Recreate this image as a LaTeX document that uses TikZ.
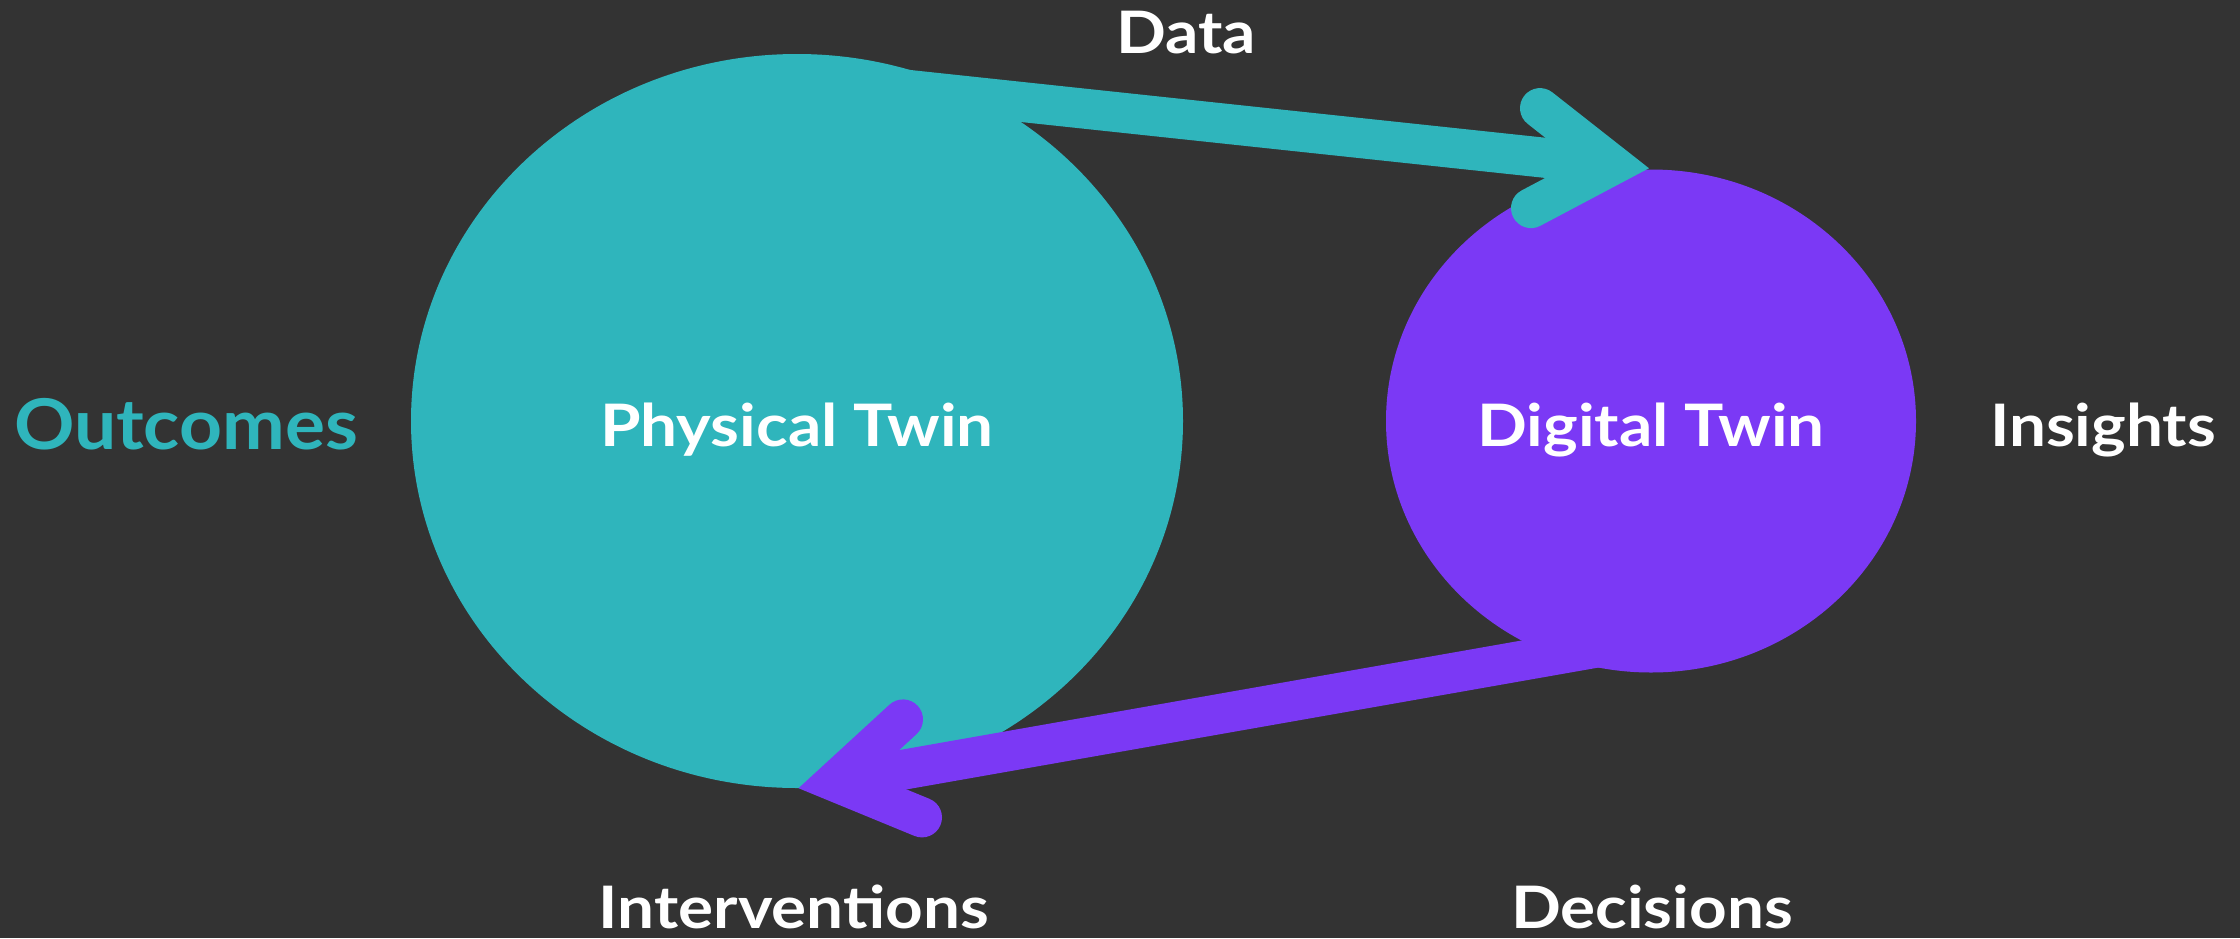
\documentclass[tikz,border=0pt]{standalone}
\usepackage{fontspec}
\setmainfont{Lato}
\newfontfamily\lblfont{Lato}[FakeStretch=1.12]
\newfontfamily\outfont{Lato}[FakeStretch=1.07]
\usetikzlibrary{shapes.geometric,calc}
\definecolor{bg}{RGB}{51,51,51}
\definecolor{tealc}{RGB}{47,181,188}
\definecolor{purp}{RGB}{123,57,245}
\tikzset{
  blob/.style={ellipse, inner sep=0pt, draw=none},
  lbl/.style={anchor=base, inner sep=0pt, text=white, font=\lblfont\fontsize{29.3pt}{35pt}\selectfont\bfseries},
  biglbl/.style={anchor=base, inner sep=0pt, font=\outfont\fontsize{35pt}{42pt}\selectfont\bfseries},
  shaft/.style={line width=20pt, line cap=butt},
  armline/.style={line width=20pt, line cap=round, line join=miter}
}
\begin{document}
\begin{tikzpicture}[x=0.5pt,y=-0.5pt]
\fill[bg] (0,0) rectangle (2240,938);
\useasboundingbox (0,0) rectangle (2240,938);
% ellipses
\node[blob, fill=tealc, minimum width=386pt, minimum height=367pt] (phys) at (797,421) {};
\node[blob, fill=purp, minimum width=265pt, minimum height=251.5pt] (digi) at (1651,421) {};
% data arrow (teal)
\coordinate (dstart) at (797,78);
\coordinate (dtip) at (digi.north);
\coordinate (dv) at ($(dtip)!19.4pt!(dstart)$);
\draw[shaft, tealc] (dstart) -- (dv);
\draw[armline, tealc] ($(dtip)+(-111,-61)$) -- (dv) -- ($(dtip)+(-120,39)$);
% decisions arrow (purple)
\coordinate (pstart) at (1651,638);
\coordinate (ptip) at (phys.south);
\coordinate (pv) at ($(ptip)!19.4pt!(pstart)$);
\draw[shaft, purp] (pstart) -- (pv);
\draw[armline, purp] ($(ptip)+(106,-69)$) -- (pv) -- ($(ptip)+(125,29)$);
% labels
\node[lbl] (datalbl) at (1186,53) {Data};
\node[biglbl, text=tealc] (outlbl) at (186,449) {Outcomes};
\node[lbl] (physlbl) at (797,446) {Physical Twin};
\node[lbl] (digilbl) at (1651,446) {Digital Twin};
\node[lbl] (inslbl) at (2103,446) {Insights};
\node[lbl] (intlbl) at (794,928) {Interventions};
\node[lbl] (declbl) at (1652,928) {Decisions};
\end{tikzpicture}
\end{document}
